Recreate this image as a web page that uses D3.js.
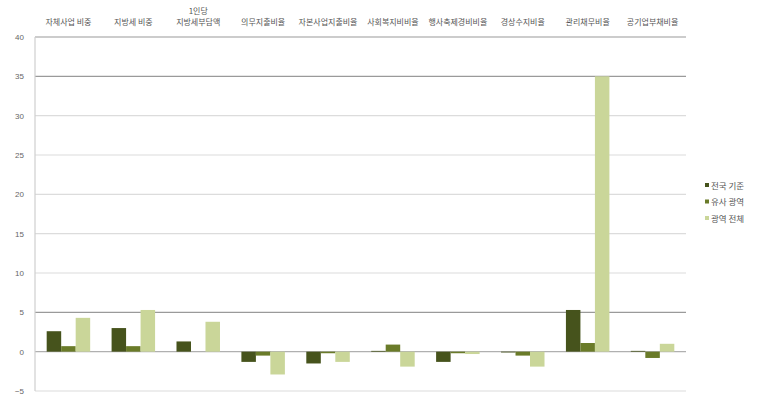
<!DOCTYPE html>
<html><head><meta charset="utf-8">
<script src="https://cdnjs.cloudflare.com/ajax/libs/d3/7.8.5/d3.min.js"></script>
<style>body{margin:0;background:#fff;}svg{display:block;font-family:"Noto Sans CJK KR","Noto Sans",sans-serif;}</style>
</head><body>
<script>
const categories = ["자체사업 비중","지방세 비중","1인당\n지방세부담액","의무지출비율","자본사업지출비율","사회복지비비율","행사축제경비비율","경상수지비율","관리채무비율","공기업부채비율"];
const seriesNames = ["전국 기준","유사 광역","광역 전체"];
const nationalValues = [2.6, 3.0, 1.3, -1.3, -1.5, 0.1, -1.3, -0.1, 5.3, 0.1];
const similarValues  = [0.7, 0.7, 0.0, -0.5, -0.2, 0.9, -0.2, -0.5, 1.1, -0.8];
const allValues      = [4.3, 5.3, 3.8, -2.9, -1.3, -1.9, -0.3, -1.9, 35.0, 1.0];
const yTicks = [-5,0,5,10,15,20,25,30,35,40];
const colors = ["#46531c","#6a7b29","#cad699"];

const W = 761, H = 396;
const svg = d3.select("body").append("svg").attr("width", W).attr("height", H);
const pLeft = 35, pRight = 686, pTop = 37, pBottom = 391;
const y = d3.scaleLinear().domain([-5, 40]).range([pBottom, pTop]);
const x0 = d3.scaleBand().domain(categories).range([pLeft, pRight]).paddingInner(0.33).paddingOuter(0.18);
const x1 = d3.scaleBand().domain(seriesNames).range([0, x0.bandwidth()]);

// gridlines
svg.append("g").selectAll("line").data(yTicks).join("line")
  .attr("x1", pLeft).attr("x2", pRight)
  .attr("y1", d => y(d)).attr("y2", d => y(d))
  .attr("stroke", d => (d === 35 || d === 5 || d === 40) ? "#9a9a9a" : (d === 0 ? "#b0b0b0" : "#dcdcdc"))
  .attr("stroke-width", 1.2);
// frame left
svg.append("line").attr("x1", pLeft).attr("x2", pLeft).attr("y1", pTop).attr("y2", pBottom).attr("stroke", "#cfcfcf").attr("stroke-width", 1.2);

// y axis labels
const yAxis = d3.axisLeft(y).tickValues(yTicks).tickSize(0).tickPadding(0);
const ga = svg.append("g").attr("transform", `translate(${pLeft - 11},0)`).call(yAxis);
ga.select(".domain").remove();
ga.selectAll("text").attr("fill", "#666").style("font-size", "8px").style("font-family", "'Liberation Sans',sans-serif");

// bars
const data = categories.map((c, i) => ({c, vals: [nationalValues[i], similarValues[i], allValues[i]]}));
const g = svg.append("g");
data.forEach(d => {
  d.vals.forEach((v, j) => {
    g.append("rect")
      .attr("x", x0(d.c) + x1(seriesNames[j]))
      .attr("width", x1.bandwidth())
      .attr("y", y(Math.max(0, v)))
      .attr("height", Math.abs(y(v) - y(0)))
      .attr("fill", colors[j]);
  });
});

// category labels
data.forEach(d => {
  const lines = d.c.split("\n");
  const cx = x0(d.c) + x0.bandwidth() / 2;
  lines.forEach((ln, k) => {
    svg.append("text").attr("x", cx).attr("y", 25 - (lines.length - 1 - k) * 11)
      .attr("text-anchor", "middle").attr("fill", "#555").style("font-size", "8px").text(ln);
  });
});

// legend
const lg = svg.append("g").attr("transform", "translate(705,186)");
seriesNames.forEach((s, i) => {
  lg.append("rect").attr("x", 0).attr("y", i * 16.5 - 3).attr("width", 4).attr("height", 4).attr("fill", colors[i]);
  lg.append("text").attr("x", 6).attr("y", i * 16.5 + 2.5).attr("fill", "#555").style("font-size", "8.5px").text(s);
});
</script>
</body></html>
